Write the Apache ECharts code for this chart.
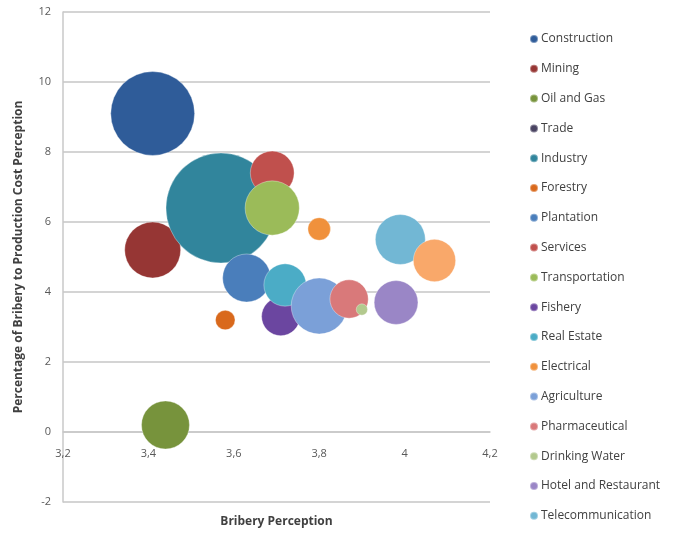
<!DOCTYPE html>
<html>
<head>
<meta charset="utf-8">
<script src="https://cdn.jsdelivr.net/npm/echarts@6/dist/echarts.min.js"></script>
<style>
  html, body { margin: 0; padding: 0; background: #fff; }
  #chart { width: 686px; height: 535px; }
</style>
</head>
<body>
<div id="chart"></div>
<script>
// sectors, as listed in the legend (last one has no legend entry)
const sectors = ['Construction', 'Mining', 'Oil and Gas', 'Trade', 'Industry', 'Forestry',
  'Plantation', 'Services', 'Transportation', 'Fishery', 'Real Estate', 'Electrical',
  'Agriculture', 'Pharmaceutical', 'Drinking Water', 'Hotel and Restaurant', 'Telecommunication', ''];
// bribery perception (x)
const bribery = [3.41, 3.41, 3.44, 3.57, 3.57, 3.58, 3.63, 3.69, 3.69, 3.71, 3.72, 3.80,
  3.80, 3.87, 3.90, 3.98, 3.99, 4.07];
// percentage of bribery to production cost (y)
const costPct = [9.1, 5.2, 0.2, 6.5, 6.4, 3.2, 4.4, 7.4, 6.4, 3.3, 4.2, 5.8,
  3.6, 3.8, 3.5, 3.7, 5.5, 4.9];
// bubble size
const bubble = [110, 49, 36, 10, 189, 6, 36, 30, 46, 23, 28, 8, 49, 23, 2, 30, 39, 28];

const colors = ['#2f5c99', '#963634', '#77933c', '#4a4462', '#31859c', '#d9691c',
  '#4a7ebb', '#c0504d', '#9bbb59', '#6b46a0', '#4bacc6', '#f0913c',
  '#7ba0d8', '#d9797a', '#b3c98e', '#9a86c6', '#72b7d4', '#f9a86a'];

const fmt = v => String(+v.toFixed(1)).replace('.', ',');

const chart = echarts.init(document.getElementById('chart'));

const series = sectors.map((name, i) => ({
  name: name,
  type: 'scatter',
  data: [[bribery[i], costPct[i], bubble[i]]],
  symbolSize: d => Math.sqrt(d[2]) * 8,
  itemStyle: { color: colors[i], opacity: 1, borderColor: 'rgba(255,255,255,0.35)', borderWidth: 1 },
  emphasis: { disabled: true }
}));

chart.setOption({
  animation: false,
  textStyle: { fontFamily: 'Open Sans' },
  grid: { left: 63, right: 196, top: 12, bottom: 33, containLabel: false, outerBoundsMode: 'none' },
  legend: {
    data: sectors.filter(s => s !== ''),
    orient: 'vertical',
    left: 524,
    top: 28,
    icon: 'circle',
    itemWidth: 8,
    itemHeight: 8,
    itemGap: 17.8,
    textStyle: { fontSize: 12, color: '#404040', padding: [0, 0, 0, -2] }
  },
  xAxis: {
    type: 'value',
    min: 3.2,
    max: 4.2,
    interval: 0.2,
    // x axis sits on the y = 0 gridline
    offset: -70,
    name: 'Bribery Perception',
    nameLocation: 'middle',
    nameGap: 84,
    nameTextStyle: { fontSize: 12, fontWeight: 'bold', color: '#404040' },
    axisLine: { onZero: false, lineStyle: { color: '#c8c8c8', width: 1.5 } },
    axisTick: { show: false },
    axisLabel: { formatter: fmt, color: '#595959', fontSize: 11, margin: 16 },
    splitLine: { show: false }
  },
  yAxis: {
    type: 'value',
    min: -2,
    max: 12,
    interval: 2,
    name: 'Percentage of Bribery to Production Cost Perception',
    nameLocation: 'middle',
    nameGap: 38,
    nameTextStyle: { fontSize: 12, fontWeight: 'bold', color: '#404040' },
    axisLine: { show: true, lineStyle: { color: '#c8c8c8', width: 1.5 } },
    axisTick: { show: false },
    axisLabel: { color: '#595959', fontSize: 11, margin: 12 },
    splitLine: { lineStyle: { color: '#d4d4d4', width: 2 } }
  },
  series: series
});
</script>
</body>
</html>
